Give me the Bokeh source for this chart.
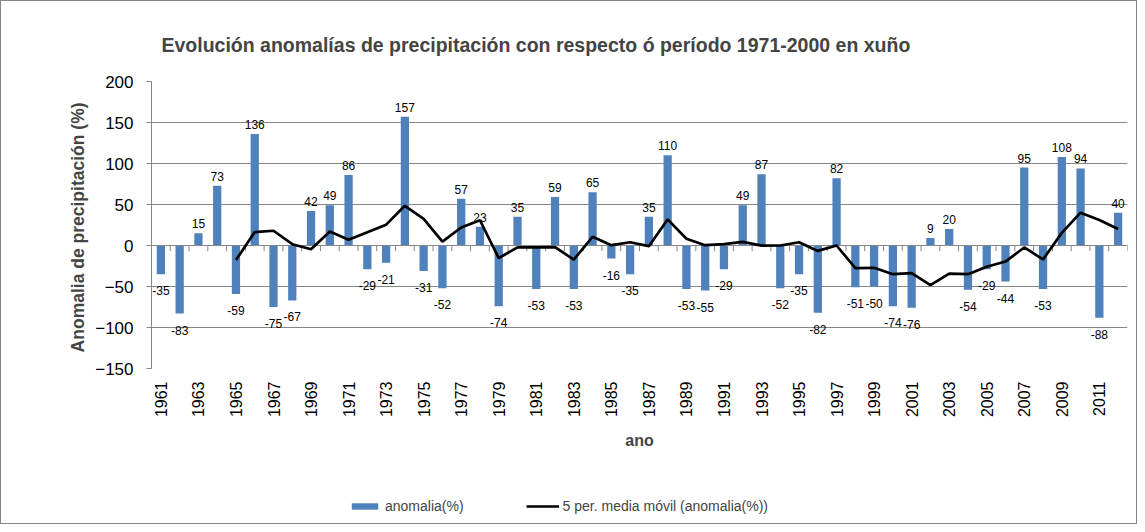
import math
from bokeh.plotting import figure
from bokeh.layouts import column
from bokeh.models import ColumnDataSource, FixedTicker, Legend, LegendItem
from bokeh.core.properties import value
from bokeh.embed import file_html
from bokeh.resources import INLINE

# ---- data ----
years = list(range(1961, 2013))
anomalia = [-35, -83, 15, 73, -59, 136, -75, -67, 42, 49,
            86, -29, -21, 157, -31, -52, 57, 23, -74, 35,
            -53, 59, -53, 65, -16, -35, 35, 110, -53, -55,
            -29, 49, 87, -52, -35, -82, 82, -51, -50, -74,
            -76, 9, 20, -54, -29, -44, 95, -53, 108, 94,
            -88, 40]
# 5-period moving average (as drawn, starts in 1965)
media_movil = [None, None, None, None, -17.8, 16.4, 18.0, 1.6, -4.6, 17.0,
               7.0, 16.2, 25.4, 48.4, 32.4, 4.8, 22.0, 30.8, -15.4, -2.2,
               -2.4, -2.0, -17.2, 10.6, 0.4, 4.0, -0.8, 31.8, 8.2, 0.4,
               1.6, 4.4, -0.2, 0.0, 4.0, -6.6, 0.0, -27.6, -27.2, -35.0,
               -33.8, -48.4, -34.2, -35.0, -26.0, -19.6, -2.4, -17.0, 15.4, 40.0,
               31.2, 20.2]
y_ticks = [-150, -100, -50, 0, 50, 100, 150, 200]
x_tick_years = list(range(1961, 2012, 2))

title_text = "Evolución  anomalías de  precipitación con respecto ó período 1971-2000 en xuño"
y_label = "Anomalia de precipitación  (%)"
x_label = "ano"
legend_bar = "anomalia(%)"
legend_line = "5 per. media móvil (anomalia(%))"

FONT = "Liberation Sans"
BAR = "#4F81BD"
GRID = "#868686"
BORDER = "1px solid #868686"

ma = [float("nan") if v is None else v for v in media_movil]
x_rng = (years[0] - 0.5, years[-1] + 0.5)

# ---- main figure ----
p = figure(width=1137, height=480,
           x_range=x_rng, y_range=(y_ticks[0], y_ticks[-1]),
           output_backend="svg", toolbar_location=None,
           min_border_left=150, min_border_right=11, min_border_top=80, min_border_bottom=113)
p.outline_line_color = None
p.background_fill_color = "white"
p.styles = {"border-top": BORDER, "border-left": BORDER, "border-right": BORDER}

p.title.text = title_text
p.title.text_font = FONT
p.title.text_font_size = "19.5px"
p.title.text_font_style = "bold"
p.title.align = "left"
p.title.offset = 10
p.title.standoff = 52

# grid
p.xgrid.grid_line_color = None
p.ygrid.grid_line_color = GRID
p.ygrid.grid_line_width = 1

# y axis
p.yaxis.ticker = FixedTicker(ticks=y_ticks)
p.yaxis.axis_line_color = GRID
p.yaxis.major_tick_line_color = GRID
p.yaxis.major_tick_out = 5
p.yaxis.major_tick_in = 0
p.yaxis.minor_tick_line_color = None
p.yaxis.major_label_text_font = FONT
p.yaxis.major_label_text_font_size = "17px"
p.yaxis.major_label_text_color = "black"
p.yaxis.major_label_standoff = 13
p.yaxis.axis_label = y_label
p.yaxis.axis_label_text_font = FONT
p.yaxis.axis_label_text_font_size = "17.5px"
p.yaxis.axis_label_text_font_style = "bold"
p.yaxis.axis_label_standoff = 4

# x axis
p.xaxis.ticker = FixedTicker(ticks=x_tick_years)
p.xaxis.axis_line_color = None
p.xaxis.major_tick_line_color = None
p.xaxis.major_tick_out = 0
p.xaxis.major_tick_in = 0
p.xaxis.minor_tick_line_color = None
p.xaxis.minor_tick_out = 0
p.xaxis.major_label_orientation = math.pi / 2
p.xaxis.major_label_text_font = FONT
p.xaxis.major_label_text_font_size = "16px"
p.xaxis.major_label_text_color = "black"
p.xaxis.major_label_standoff = 13
p.xaxis.axis_label = x_label
p.xaxis.axis_label_text_font = FONT
p.xaxis.axis_label_text_font_size = "16px"
p.xaxis.axis_label_text_font_style = "bold"
p.xaxis.axis_label_standoff = 12

# bars
src = ColumnDataSource(dict(x=years, y=anomalia))
p.vbar(x="x", top="y", bottom=0, width=0.44, source=src,
       fill_color=BAR, line_color=None)

# category axis at zero with tick marks at category boundaries
bounds = [yr - 0.5 for yr in years] + [years[-1] + 0.5]
p.segment(x0=bounds, y0=[0] * len(bounds), x1=bounds, y1=[-7] * len(bounds),
          line_color=GRID, line_width=1)
p.segment(x0=[bounds[0]], y0=[0], x1=[bounds[-1]], y1=[0], line_color=GRID, line_width=1)

# moving average
p.line(x=years, y=ma, line_color="black", line_width=2.7)

# data labels
pos_x = [x for x, v in zip(years, anomalia) if v >= 0]
pos_v = [v for v in anomalia if v >= 0]
neg_x = [x for x, v in zip(years, anomalia) if v < 0]
neg_v = [v for v in anomalia if v < 0]
p.text(x=pos_x, y=pos_v, text=[str(v) for v in pos_v], y_offset=-5,
       text_align="center", text_baseline="bottom", text_font=value(FONT),
       text_font_size="12px", text_color="black")
p.text(x=neg_x, y=neg_v, text=[str(v) for v in neg_v], y_offset=12,
       text_align="center", text_baseline="top", text_font=value(FONT),
       text_font_size="12px", text_color="black")

# ---- legend strip below (same series, drawn out of view; only the legend shows) ----
leg = figure(width=1137, height=44, x_range=x_rng, y_range=(1000, 1001),
             output_backend="svg", toolbar_location=None,
             min_border=0, min_border_left=0, min_border_right=0,
             min_border_top=0, min_border_bottom=0)
leg.axis.visible = False
leg.grid.visible = False
leg.outline_line_color = None
leg.styles = {"border-bottom": BORDER, "border-left": BORDER, "border-right": BORDER}
r_bar = leg.vbar(x=years, top=anomalia, bottom=0, width=0.44, fill_color=BAR, line_color=None)
r_line = leg.line(x=years, y=ma, line_color="black", line_width=2.7)
legend = Legend(items=[LegendItem(label=legend_bar, renderers=[r_bar]),
                       LegendItem(label=legend_line, renderers=[r_line])],
                orientation="horizontal", location=(197, 10),
                label_text_font=FONT, label_text_font_size="14px",
                glyph_width=33, glyph_height=8, spacing=62, padding=0,
                margin=0, border_line_color=None, background_fill_alpha=0,
                label_standoff=4)
leg.add_layout(legend)

layout = column(p, leg, spacing=0)
open("out.html", "w").write(file_html(layout, INLINE))
